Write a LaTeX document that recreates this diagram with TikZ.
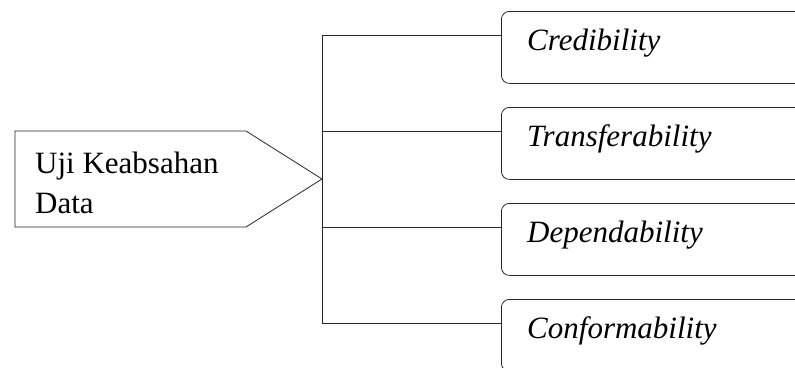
\documentclass[tikz,border=0pt]{standalone}
\usepackage{fontspec}
\setmainfont{Liberation Serif}[ItalicFont={Liberation Serif Italic}]
\usetikzlibrary{calc}
\begin{document}
\begin{tikzpicture}[x=1pt,y=-1pt,
  line/.style={draw=black!85,line width=0.8pt},
  itembox/.style={line,rounded corners=8pt,minimum width=360pt,minimum height=72pt,anchor=north west,inner sep=0pt},
  itemtext/.style={anchor=base west,inner sep=0pt,font=\fontsize{31}{40}\selectfont\itshape},
  maintext/.style={anchor=base west,inner sep=0pt,align=left,font=\fontsize{31}{40}\selectfont}]
\useasboundingbox (0,0) rectangle (795,367);
\clip (0,0) rectangle (795,367);
% source pentagon
\draw[line] (15,131) -- (246,131) -- (322,179) coordinate (tip) -- (246,227) -- (15,227) -- cycle;
\node[maintext] (src) at (35,213) {Uji Keabsahan\\Data};
% boxes
\node[itembox] (b1) at (501,11) {};
\node[itembox] (b2) at (501,107) {};
\node[itembox] (b3) at (501,203) {};
\node[itembox] (b4) at (501,299) {};
\node[itemtext] (t1) at (527,50) {Credibility};
\node[itemtext] (t2) at (527,146) {Transferability};
\node[itemtext] (t3) at (527,242) {Dependability};
\node[itemtext] (t4) at (527,338) {Conformability};
% connectors
\coordinate (j1) at (322,35);
\coordinate (j4) at (322,323);
\draw[line] (j1) -- (j4);
\foreach \i in {1,2,3,4}{
  \draw[line] ($(b\i.north west)+(0,24)$) -| (tip);
}
\end{tikzpicture}
\end{document}
